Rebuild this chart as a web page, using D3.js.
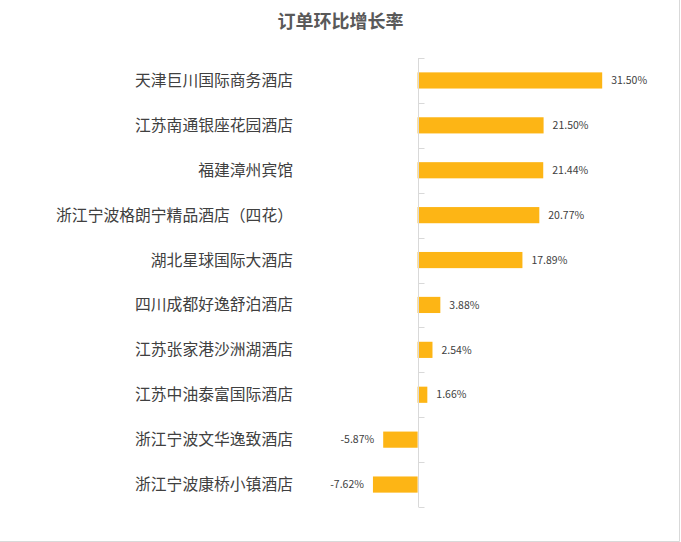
<!DOCTYPE html>
<html>
<head>
<meta charset="utf-8">
<script src="https://cdn.jsdelivr.net/npm/d3@7/dist/d3.min.js"></script>
<style>
	body { margin: 0; background: #fff; }
	svg { display: block; }
</style>
</head>
<body>
<div class="chart"></div>
<script>
var hotels = ["天津巨川国际商务酒店", "江苏南通银座花园酒店", "福建漳州宾馆", "浙江宁波格朗宁精品酒店（四花）",
	"湖北星球国际大酒店", "四川成都好逸舒泊酒店", "江苏张家港沙洲湖酒店", "江苏中油泰富国际酒店",
	"浙江宁波文华逸致酒店", "浙江宁波康桥小镇酒店"];
var growth = [31.50, 21.50, 21.44, 20.77, 17.89, 3.88, 2.54, 1.66, -5.87, -7.62];
var xDomain = [-10, 35];

var width = 681, height = 542;
var font = "'Microsoft YaHei', 'Noto Sans CJK SC', sans-serif";

var svg = d3.select('.chart')
	.append('svg')
	.attr('width', width)
	.attr('height', height);

//border (right and bottom only visible)
svg.append('path')
	.attr('d', 'M0,541.5H679.5V0')
	.attr('fill', 'none')
	.attr('stroke', '#d9d9d9');

//title
svg.append('text')
	.attr('x', 340.5)
	.attr('y', 28)
	.attr('text-anchor', 'middle')
	.attr('font-family', font)
	.attr('font-size', '18px')
	.attr('font-weight', 'bold')
	.attr('fill', '#595959')
	.text('订单环比增长率');

var xScale = d3.scaleLinear()
	.domain(xDomain)
	.range([359, 622.7]);

var yScale = d3.scaleBand()
	.domain(hotels)
	.range([58, 507])
	.paddingInner(0.64)
	.paddingOuter(0.32);

var data = hotels.map(function (h, i) {
	return { name: h, value: growth[i] };
});

//bars
svg.append('g')
	.selectAll('rect')
	.data(data)
	.enter().append('rect')
	.attr('x', function (d) { return xScale(Math.min(0, d.value)); })
	.attr('y', function (d) { return yScale(d.name); })
	.attr('width', function (d) { return Math.abs(xScale(d.value) - xScale(0)); })
	.attr('height', yScale.bandwidth())
	.attr('fill', '#FDB515');

//category axis at zero, ticks between bands
var x0 = Math.round(xScale(0)) + 0.5;
var axis = svg.append('g').attr('class', 'y axis');
axis.append('line')
	.attr('x1', x0).attr('x2', x0)
	.attr('y1', 58).attr('y2', 507)
	.attr('stroke', '#d9d9d9');
var bounds = hotels.map(function (h) { return yScale(h) - yScale.step() * yScale.paddingInner() / 2; });
bounds.push(507);
axis.selectAll('.tick')
	.data(bounds)
	.enter().append('line')
	.attr('x1', x0).attr('x2', x0 + 6)
	.attr('y1', function (d) { return Math.round(d) + 0.5; })
	.attr('y2', function (d) { return Math.round(d) + 0.5; })
	.attr('stroke', '#d9d9d9');

//category labels
svg.append('g')
	.selectAll('text')
	.data(data)
	.enter().append('text')
	.attr('x', 293)
	.attr('y', function (d) { return yScale(d.name) + yScale.bandwidth() / 2; })
	.attr('dy', '0.35em')
	.attr('text-anchor', 'end')
	.attr('font-family', font)
	.attr('font-size', '15.8px')
	.attr('fill', '#404040')
	.text(function (d) { return d.name; });

//value labels
svg.append('g')
	.selectAll('text')
	.data(data)
	.enter().append('text')
	.attr('x', function (d) { return d.value >= 0 ? xScale(d.value) + 9 : xScale(d.value) - 9; })
	.attr('y', function (d) { return yScale(d.name) + yScale.bandwidth() / 2; })
	.attr('dy', '0.35em')
	.attr('text-anchor', function (d) { return d.value >= 0 ? 'start' : 'end'; })
	.attr('font-family', font)
	.attr('font-size', '10.5px')
	.attr('fill', '#404040')
	.text(function (d) { return d.value.toFixed(2) + '%'; });
</script>
</body>
</html>
